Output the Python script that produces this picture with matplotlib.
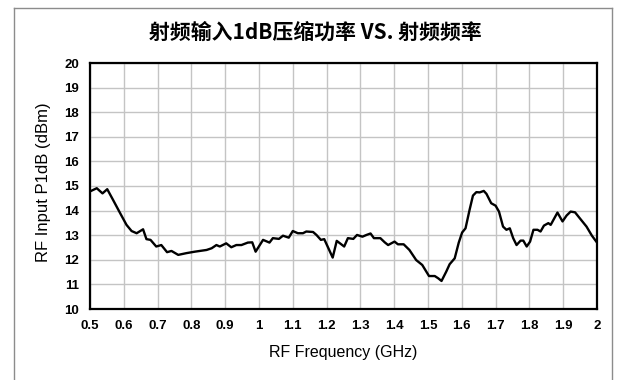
import matplotlib
matplotlib.use("Agg")
import matplotlib.pyplot as plt
from matplotlib.lines import Line2D

plt.rcParams['font.family'] = ['Liberation Sans', 'DejaVu Sans']

# RF input P1dB vs frequency
freq_ghz = [0.500, 0.520, 0.537, 0.551, 0.568, 0.589, 0.608, 0.623, 0.638, 0.657,
            0.667, 0.679, 0.696, 0.711, 0.728, 0.741, 0.761, 0.785, 0.810, 0.825,
            0.845, 0.860, 0.874, 0.884, 0.903, 0.918, 0.933, 0.948, 0.967, 0.980,
            0.990, 1.012, 1.031, 1.041, 1.059, 1.071, 1.088, 1.100, 1.115, 1.130,
            1.140, 1.160, 1.170, 1.183, 1.193, 1.218, 1.230, 1.252, 1.263, 1.279,
            1.290, 1.306, 1.318, 1.330, 1.340, 1.359, 1.372, 1.382, 1.401, 1.411,
            1.428, 1.445, 1.465, 1.483, 1.503, 1.520, 1.530, 1.540, 1.554, 1.564,
            1.579, 1.591, 1.601, 1.611, 1.623, 1.633, 1.643, 1.653, 1.665, 1.673,
            1.687, 1.700, 1.710, 1.722, 1.732, 1.742, 1.752, 1.762, 1.774, 1.782,
            1.792, 1.802, 1.812, 1.824, 1.833, 1.843, 1.856, 1.863, 1.883, 1.898,
            1.910, 1.922, 1.935, 1.949, 1.969, 1.985, 2.000]
p1db_dbm = [14.78, 14.91, 14.70, 14.87, 14.44, 13.90, 13.42, 13.17, 13.08, 13.24,
            12.84, 12.81, 12.54, 12.60, 12.31, 12.36, 12.20, 12.27, 12.33, 12.36,
            12.40, 12.47, 12.60, 12.54, 12.67, 12.51, 12.60, 12.60, 12.70, 12.71,
            12.33, 12.81, 12.70, 12.88, 12.85, 12.98, 12.90, 13.17, 13.08, 13.08,
            13.15, 13.13, 13.01, 12.81, 12.84, 12.09, 12.77, 12.54, 12.88, 12.85,
            13.01, 12.94, 13.01, 13.07, 12.88, 12.88, 12.71, 12.60, 12.74, 12.63,
            12.63, 12.40, 11.99, 11.79, 11.34, 11.34, 11.25, 11.14, 11.52, 11.82,
            12.06, 12.70, 13.11, 13.28, 14.03, 14.61, 14.75, 14.74, 14.80, 14.68,
            14.30, 14.20, 13.96, 13.35, 13.22, 13.28, 12.88, 12.60, 12.78, 12.78,
            12.54, 12.74, 13.22, 13.22, 13.15, 13.39, 13.49, 13.42, 13.92, 13.56,
            13.80, 13.96, 13.93, 13.69, 13.35, 12.98, 12.70]

x_ticks = [0.5, 0.6, 0.7, 0.8, 0.9, 1.0, 1.1, 1.2, 1.3, 1.4, 1.5, 1.6, 1.7, 1.8, 1.9, 2.0]
x_tick_labels = ['0.5', '0.6', '0.7', '0.8', '0.9', '1', '1.1', '1.2', '1.3', '1.4',
                 '1.5', '1.6', '1.7', '1.8', '1.9', '2']
y_ticks = list(range(10, 21))

title_text = '射频输入1dB压缩功率 VS. 射频频率'
x_label = 'RF Frequency (GHz)'
y_label = 'RF Input P1dB (dBm)'

W, H = 619, 380
fig = plt.figure(figsize=(W / 100, H / 100), dpi=100)
ax = fig.add_axes([90 / W, 1 - 309 / H, (597 - 90) / W, (309 - 63) / H])

ax.plot(freq_ghz, p1db_dbm, color='black', lw=1.7, solid_joinstyle='round')

ax.set_xlim(0.5, 2.0)
ax.set_ylim(10, 20)
ax.set_xticks(x_ticks)
ax.set_xticklabels(x_tick_labels)
ax.set_yticks(y_ticks)
ax.grid(True, color='#c4c4c4', lw=1.0)
ax.set_axisbelow(True)
ax.tick_params(length=0, labelsize=9.5, pad=8)
for lab in ax.get_xticklabels() + ax.get_yticklabels():
    lab.set_fontweight('bold')
for sp in ax.spines.values():
    sp.set_linewidth(1.6)
    sp.set_color('black')

ax.set_xlabel(x_label, fontsize=11.5, labelpad=9)
ax.set_ylabel(y_label, fontsize=12)
ax.yaxis.set_label_coords(-39 / (597 - 90), 0.515)

fig.text(315 / W, 1 - 32 / H, title_text, ha='center', va='center',
         fontsize=15, fontweight='bold',
         family=['Noto Sans CJK SC', 'DejaVu Sans'])

# outer grey frame (open at the bottom)
frame_kw = dict(color='#8c8c8c', lw=1.0, transform=fig.transFigure)
fig.add_artist(Line2D([14 / W, 612 / W], [1 - 8 / H, 1 - 8 / H], **frame_kw))
fig.add_artist(Line2D([14 / W, 14 / W], [1 - 8 / H, 0], **frame_kw))
fig.add_artist(Line2D([612 / W, 612 / W], [1 - 8 / H, 0], **frame_kw))

fig.savefig('out.png', dpi=100)
